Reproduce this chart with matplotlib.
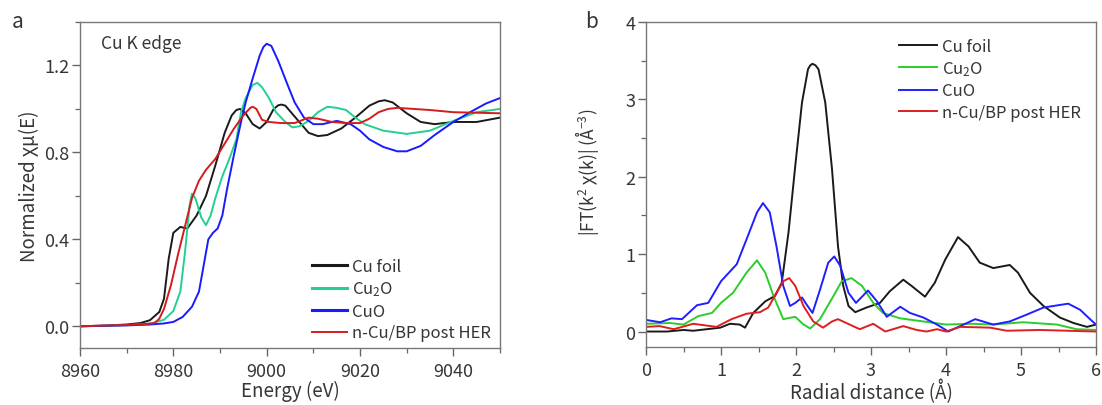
"""XANES (Cu K edge) and FT-EXAFS comparison of n-Cu/BP with Cu references."""

import matplotlib
matplotlib.use("Agg")
import matplotlib.pyplot as plt
from matplotlib.ticker import MultipleLocator

plt.rcParams["font.family"] = ["Noto Sans CJK SC", "DejaVu Sans"]
plt.rcParams["mathtext.fontset"] = "custom"
plt.rcParams["mathtext.rm"] = "Noto Sans CJK SC"
plt.rcParams["mathtext.it"] = "Noto Sans CJK SC"
plt.rcParams["mathtext.bf"] = "Noto Sans CJK SC:bold"
plt.rcParams["text.color"] = "#363636"
plt.rcParams["axes.labelcolor"] = "#363636"
plt.rcParams["xtick.color"] = "#666666"
plt.rcParams["ytick.color"] = "#666666"
plt.rcParams["xtick.labelcolor"] = "#363636"
plt.rcParams["ytick.labelcolor"] = "#363636"

labels = ["Cu foil", "Cu$_2$O", "CuO", "n-Cu/BP post HER"]

# ---- panel a: normalized XANES ----
foil_e = [8960, 8965, 8970, 8973, 8975, 8977, 8978, 8979, 8980, 8981.5, 8983, 8985, 8987,
          8989, 8991, 8992.5, 8993.5, 8994.3, 8995.5, 8997, 8998.5, 9000, 9001.5, 9002.5,
          9003.2, 9004, 9005, 9007, 9009, 9011, 9013, 9016, 9019, 9022, 9024, 9025.3, 9027,
          9030, 9033, 9036, 9040, 9045, 9050]
foil_mu = [0.0, 0.003, 0.008, 0.015, 0.028, 0.066, 0.127, 0.31, 0.43, 0.457, 0.45, 0.51, 0.60,
           0.74, 0.89, 0.97, 0.995, 1.0, 0.98, 0.93, 0.91, 0.94, 1.0, 1.017,
           1.02, 1.015, 0.99, 0.94, 0.89, 0.875, 0.88, 0.91, 0.96, 1.015, 1.035, 1.04, 1.03,
           0.98, 0.94, 0.93, 0.94, 0.94, 0.96]

cu2o_e = [8960, 8965, 8970, 8975, 8978, 8980, 8981.5, 8982.5, 8983.5, 8984, 8984.7, 8986,
          8987, 8988, 8989, 8990.5, 8992, 8993.5, 8994.5, 8995.5, 8997, 8998, 8999, 9000.5,
          9002, 9004, 9005.5, 9007, 9009, 9011, 9013, 9015, 9017, 9019, 9021, 9025, 9030,
          9035, 9040, 9045, 9050]
cu2o_mu = [0.0, 0.002, 0.005, 0.012, 0.03, 0.07, 0.16, 0.34, 0.56, 0.61, 0.59, 0.50,
           0.465, 0.51, 0.59, 0.69, 0.77, 0.86, 0.985, 1.05, 1.11, 1.12, 1.10, 1.05,
           0.985, 0.94, 0.915, 0.92, 0.945, 0.985, 1.01, 1.005, 0.995, 0.96, 0.93, 0.90, 0.885,
           0.90, 0.945, 0.985, 1.0]

cuo_e = [8960, 8965, 8970, 8975, 8978, 8980, 8982, 8984, 8985.5, 8986.5, 8987.5, 8988.5,
         8989.5, 8990.5, 8991.5, 8993, 8994.5, 8995.5, 8997, 8998.5, 8999.3, 9000, 9001,
         9002.5, 9004.5, 9006, 9008, 9010, 9012, 9015, 9018, 9020, 9022, 9025, 9028, 9030,
         9033, 9036, 9040, 9044, 9047, 9050]
cuo_mu = [0.0, 0.002, 0.004, 0.008, 0.013, 0.02, 0.043, 0.09, 0.16, 0.28, 0.40, 0.43,
          0.45, 0.51, 0.63, 0.79, 0.94, 1.03, 1.14, 1.245, 1.285, 1.30, 1.29,
          1.22, 1.11, 1.03, 0.96, 0.93, 0.93, 0.945, 0.93, 0.90, 0.86, 0.825, 0.805, 0.805,
          0.83, 0.88, 0.94, 0.99, 1.025, 1.05]

ncu_e = [8960, 8965, 8970, 8974, 8976, 8977, 8978, 8979.5, 8981, 8982.5, 8984, 8985.5, 8987,
         8989, 8991, 8993, 8995, 8996.5, 8997, 8997.8, 8999, 9000.5, 9003, 9006, 9009,
         9011, 9014, 9017, 9020, 9022, 9024, 9026, 9028, 9035, 9040, 9050]
ncu_mu = [0.0, 0.003, 0.006, 0.01, 0.015, 0.035, 0.08, 0.19, 0.33, 0.46, 0.59, 0.67, 0.72,
          0.77, 0.84, 0.91, 0.97, 1.005, 1.01, 1.0, 0.95, 0.94, 0.935, 0.935, 0.96,
          0.955, 0.94, 0.935, 0.935, 0.955, 0.985, 1.0, 1.005, 0.995, 0.985, 0.98]

# ---- panel b: |FT(k^2 chi(k))| ----
foil_r = [0, 0.28, 0.5, 0.63, 0.99, 1.12, 1.25, 1.32, 1.43, 1.59, 1.72, 1.81, 1.9, 1.99,
          2.08, 2.16, 2.19, 2.22, 2.26, 2.3, 2.39, 2.48, 2.56, 2.63, 2.7, 2.79, 2.94, 3.12,
          3.25, 3.43, 3.54, 3.72, 3.85, 3.99, 4.16, 4.3, 4.45, 4.63, 4.85, 4.96, 5.12, 5.3,
          5.52, 5.7, 5.88, 6.0]
foil_ft = [0.0, 0.0, 0.02, 0.01, 0.05, 0.1, 0.09, 0.05, 0.24, 0.39, 0.46, 0.63, 1.28, 2.14,
           2.96, 3.39, 3.44, 3.46, 3.44, 3.39, 2.96, 2.1, 1.1, 0.59, 0.33, 0.25, 0.31, 0.37,
           0.52, 0.67, 0.59, 0.45, 0.63, 0.93, 1.22, 1.1, 0.89, 0.82, 0.86, 0.76, 0.5, 0.33,
           0.18, 0.11, 0.06, 0.09]

cu2o_r = [0, 0.32, 0.5, 0.7, 0.88, 1.0, 1.16, 1.34, 1.48, 1.59, 1.7, 1.83, 1.99, 2.1, 2.19,
          2.32, 2.5, 2.61, 2.74, 2.88, 3.03, 3.16, 3.39, 3.7, 4.0, 4.36, 4.63, 5.03, 5.48,
          5.74, 6.0]
cu2o_ft = [0.1, 0.11, 0.09, 0.2, 0.24, 0.37, 0.5, 0.76, 0.92, 0.76, 0.46, 0.16, 0.19, 0.09,
           0.04, 0.16, 0.46, 0.65, 0.69, 0.59, 0.37, 0.24, 0.17, 0.13, 0.09, 0.1, 0.09, 0.12,
           0.09, 0.03, 0.02]

cuo_r = [0, 0.19, 0.34, 0.48, 0.68, 0.83, 1.0, 1.21, 1.34, 1.48, 1.56, 1.65, 1.74, 1.83,
         1.92, 1.99, 2.08, 2.14, 2.22, 2.32, 2.43, 2.51, 2.59, 2.7, 2.8, 2.96, 3.08, 3.21,
         3.39, 3.52, 3.7, 3.88, 4.03, 4.19, 4.39, 4.63, 4.85, 5.08, 5.3, 5.63, 5.79, 5.92, 6.0]
cuo_ft = [0.15, 0.12, 0.17, 0.16, 0.34, 0.37, 0.65, 0.87, 1.19, 1.54, 1.66, 1.54, 1.1, 0.59,
          0.33, 0.37, 0.44, 0.35, 0.24, 0.54, 0.89, 0.97, 0.85, 0.5, 0.37, 0.53, 0.39, 0.19,
          0.32, 0.24, 0.18, 0.09, 0.0, 0.07, 0.16, 0.09, 0.13, 0.22, 0.31, 0.36, 0.28, 0.16, 0.09]

ncu_r = [0, 0.18, 0.37, 0.63, 0.94, 1.14, 1.34, 1.52, 1.63, 1.74, 1.83, 1.91, 1.99, 2.1, 2.23,
         2.36, 2.48, 2.56, 2.67, 2.85, 3.03, 3.19, 3.43, 3.61, 3.74, 3.88, 4.0, 4.19, 4.59,
         4.81, 5.25, 6.0]
ncu_ft = [0.06, 0.07, 0.03, 0.1, 0.06, 0.16, 0.23, 0.25, 0.31, 0.5, 0.65, 0.69, 0.59, 0.33,
          0.13, 0.05, 0.13, 0.16, 0.11, 0.03, 0.1, 0.0, 0.07, 0.02, 0.0, 0.03, 0.0, 0.06, 0.05,
          0.01, 0.02, 0.0]

colors_a = ["#1a1a1a", "#22d08f", "#1a1aff", "#d41c1c"]
colors_b = ["#1a1a1a", "#2ccc2c", "#1f1fff", "#dd1f1f"]


def style_axes(ax):
    for sp in ax.spines.values():
        sp.set_color("#777777")
        sp.set_linewidth(1.0)
    ax.tick_params(which="both", direction="out", top=False, right=False, labelsize=13)
    ax.tick_params(which="major", length=6, width=1.0)
    ax.tick_params(which="minor", length=3.5, width=0.9)
    ax.tick_params(axis="y", pad=1.5)
    ax.tick_params(axis="x", pad=4)


fig = plt.figure(figsize=(11.02, 4.06), dpi=100)
ax_a = fig.add_axes([80 / 1102, 1 - 349 / 406, 420 / 1102, 326 / 406])
ax_b = fig.add_axes([646 / 1102, 1 - 348 / 406, 450 / 1102, 325 / 406])

series_a = [(foil_e, foil_mu), (cu2o_e, cu2o_mu), (cuo_e, cuo_mu), (ncu_e, ncu_mu)]
for (x, y), c, lab in zip(series_a, colors_a, labels):
    ax_a.plot(x, y, color=c, lw=1.4, label=lab)
ax_a.set_xlim(8960, 9050)
ax_a.set_ylim(-0.1, 1.4)
ax_a.xaxis.set_major_locator(MultipleLocator(20))
ax_a.xaxis.set_minor_locator(MultipleLocator(10))
ax_a.yaxis.set_major_locator(MultipleLocator(0.4))
ax_a.yaxis.set_minor_locator(MultipleLocator(0.2))
ax_a.set_xlabel("Energy (eV)", fontsize=13.5, labelpad=0)
ax_a.set_ylabel("Normalized χμ(E)", fontsize=13.5, labelpad=3)
ax_a.text(0.05, 0.935, "Cu K edge", transform=ax_a.transAxes, fontsize=12.5, va="center")
style_axes(ax_a)
leg_a = ax_a.legend(loc="lower right", frameon=False, fontsize=12, handlelength=2.1,
                    handletextpad=0.3, labelspacing=0.27, borderaxespad=0.0,
                    bbox_to_anchor=(0.995, 0.0))
for h in leg_a.get_lines()[:3]:
    h.set_linewidth(2.2)

series_b = [(foil_r, foil_ft), (cu2o_r, cu2o_ft), (cuo_r, cuo_ft), (ncu_r, ncu_ft)]
for (x, y), c, lab in zip(series_b, colors_b, labels):
    ax_b.plot(x, y, color=c, lw=1.4, label=lab)
ax_b.set_xlim(0, 6)
ax_b.set_ylim(-0.2, 4)
ax_b.xaxis.set_major_locator(MultipleLocator(1))
ax_b.xaxis.set_minor_locator(MultipleLocator(0.5))
ax_b.yaxis.set_major_locator(MultipleLocator(1))
ax_b.yaxis.set_minor_locator(MultipleLocator(0.5))
ax_b.set_xlabel("Radial distance (Å)", fontsize=13.5, labelpad=0)
ax_b.set_ylabel("|FT(k$^2$ χ(k)| (Å$^{-3}$)", fontsize=12.5, labelpad=6)
ax_b.yaxis.set_label_coords(-0.1, 0.54)
style_axes(ax_b)
ax_b.legend(loc="upper right", frameon=False, fontsize=12, handlelength=2.3,
            handletextpad=0.3, labelspacing=0.27, borderaxespad=0.0,
            bbox_to_anchor=(0.982, 0.972))

fig.text(0.011, 0.945, "a", fontsize=15, va="center")
fig.text(0.531, 0.945, "b", fontsize=15, va="center")

fig.savefig("out.png", dpi=100)
